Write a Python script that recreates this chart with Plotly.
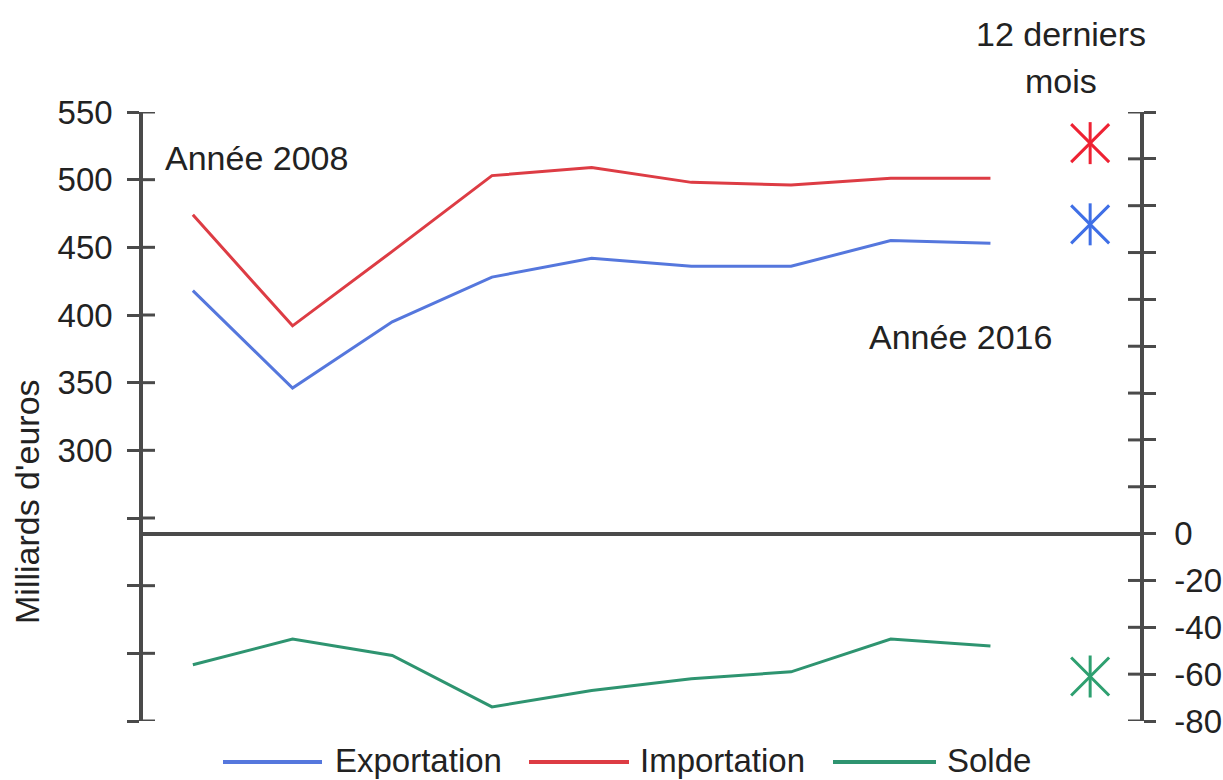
import plotly.graph_objects as go

# ---- data ----
years = [2008, 2009, 2010, 2011, 2012, 2013, 2014, 2015, 2016]
exportation = [418, 346, 395, 428, 442, 436, 436, 455, 453]
importation = [474, 392, 447, 503, 509, 498, 496, 501, 501]
solde = [-56, -45, -52, -74, -67, -62, -59, -45, -48]

last12_x = [2017]
last12_export = [467]
last12_import = [527]
last12_solde = [-61]

left_ticks = [100, 150, 200, 250, 300, 350, 400, 450, 500, 550]
left_labels = ["", "", "", "", "300", "350", "400", "450", "500", "550"]
right_ticks = [-80, -60, -40, -20, 0, 20, 40, 60, 80, 100, 120, 140, 160, 180]
right_labels = ["-80", "-60", "-40", "-20", "0", "", "", "", "", "", "", "", "", ""]

series_names = ["Exportation", "Importation", "Solde"]

# ---- styles ----
W, H = 1223, 780
L, R, T, B = 143, 83, 112, 59
PW, PH = W - L - R, H - T - B
FONT = "Liberation Sans, Arial, sans-serif"
TXT = "#222222"
AX = "#4a4a4a"
C_BLUE = "#5577dd"
C_RED = "#dd3c44"
C_GREEN = "#2e9470"
S_BLUE = "#3f6fe6"
S_RED = "#ee2233"
S_GREEN = "#2ea070"
FS = 34
TICKLEN = 12


def px(xp):
    return (xp - L) / PW


def py(yp):
    return (H - B - yp) / PH


fig = go.Figure()

fig.add_trace(go.Scatter(x=years, y=exportation, mode="lines", name=series_names[0],
                         line=dict(color=C_BLUE, width=3), yaxis="y", showlegend=False))
fig.add_trace(go.Scatter(x=years, y=importation, mode="lines", name=series_names[1],
                         line=dict(color=C_RED, width=3), yaxis="y", showlegend=False))
fig.add_trace(go.Scatter(x=years, y=solde, mode="lines", name=series_names[2],
                         line=dict(color=C_GREEN, width=3), yaxis="y2", showlegend=False))

# 12 derniers mois stars (6-spoke asterisk: x + vertical bar)
for yv, col, ax in [(last12_import, S_RED, "y"), (last12_export, S_BLUE, "y"),
                    (last12_solde, S_GREEN, "y2")]:
    fig.add_trace(go.Scatter(x=last12_x, y=yv, mode="markers", yaxis=ax, showlegend=False,
                             marker=dict(symbol="x-thin-open", size=38, color=col,
                                         line=dict(color=col, width=3))))
    fig.add_trace(go.Scatter(x=last12_x, y=yv, mode="markers", yaxis=ax, showlegend=False,
                             marker=dict(symbol="line-ns-open", size=30, color=col,
                                         line=dict(color=col, width=3))))

axis_common = dict(showgrid=False, showline=True, linecolor=AX, linewidth=3.5,
                   tickcolor=AX, tickwidth=3, ticklen=TICKLEN, automargin=False,
                   tickfont=dict(family=FONT, size=33, color=TXT))

fig.update_layout(
    width=W, height=H,
    margin=dict(l=L, r=R, t=T, b=B, autoexpand=False),
    paper_bgcolor="white", plot_bgcolor="white",
    xaxis=dict(range=[2007.5, 2017.5], visible=False, automargin=False),
    yaxis=dict(range=[100, 550], tickvals=left_ticks, ticktext=left_labels, zeroline=False,
               ticks="outside", side="left", ticklabelstandoff=8, **axis_common),
    yaxis2=dict(range=[-80, 180], tickvals=right_ticks, ticktext=right_labels,
                ticks="outside", side="right", overlaying="y", ticklabelstandoff=12,
                zeroline=True, zerolinecolor=AX, zerolinewidth=3.5, **axis_common),
    showlegend=False,
)

ann = []
shapes = []

# inner half of the crossing tick marks, placed through the axes' own scales
for t in left_ticks:
    shapes.append(dict(type="line", xref="paper", yref="y", x0=0, x1=TICKLEN / PW,
                       y0=t, y1=t, line=dict(color=AX, width=3)))
for t in right_ticks:
    shapes.append(dict(type="line", xref="paper", yref="y2", x0=1 - TICKLEN / PW, x1=1,
                       y0=t, y1=t, line=dict(color=AX, width=3)))


def text(s, xp, yp, xanchor="center", angle=0, size=FS):
    ann.append(dict(text=s, x=px(xp), y=py(yp), xref="paper", yref="paper", showarrow=False,
                    xanchor=xanchor, yanchor="middle", textangle=angle,
                    font=dict(family=FONT, size=size, color=TXT)))


text("Année 2008", 163, 158, "left")
text("Année 2016", 867, 337, "left")
text("12 derniers", 1061, 34)
text("mois", 1061, 81)
text("Milliards d'euros", 27, 502, angle=-90)

# custom legend
legend_items = [(223, 322, 333, series_names[0], C_BLUE),
                (529, 629, 638, series_names[1], C_RED),
                (833, 936, 945, series_names[2], C_GREEN)]
for x0, x1, xt, name, col in legend_items:
    shapes.append(dict(type="line", xref="paper", yref="paper", x0=px(x0), x1=px(x1),
                       y0=py(762), y1=py(762), line=dict(color=col, width=4)))
    text(name, xt, 760, "left", size=33)

fig.update_layout(annotations=ann, shapes=shapes)

fig.write_html("out.html")
